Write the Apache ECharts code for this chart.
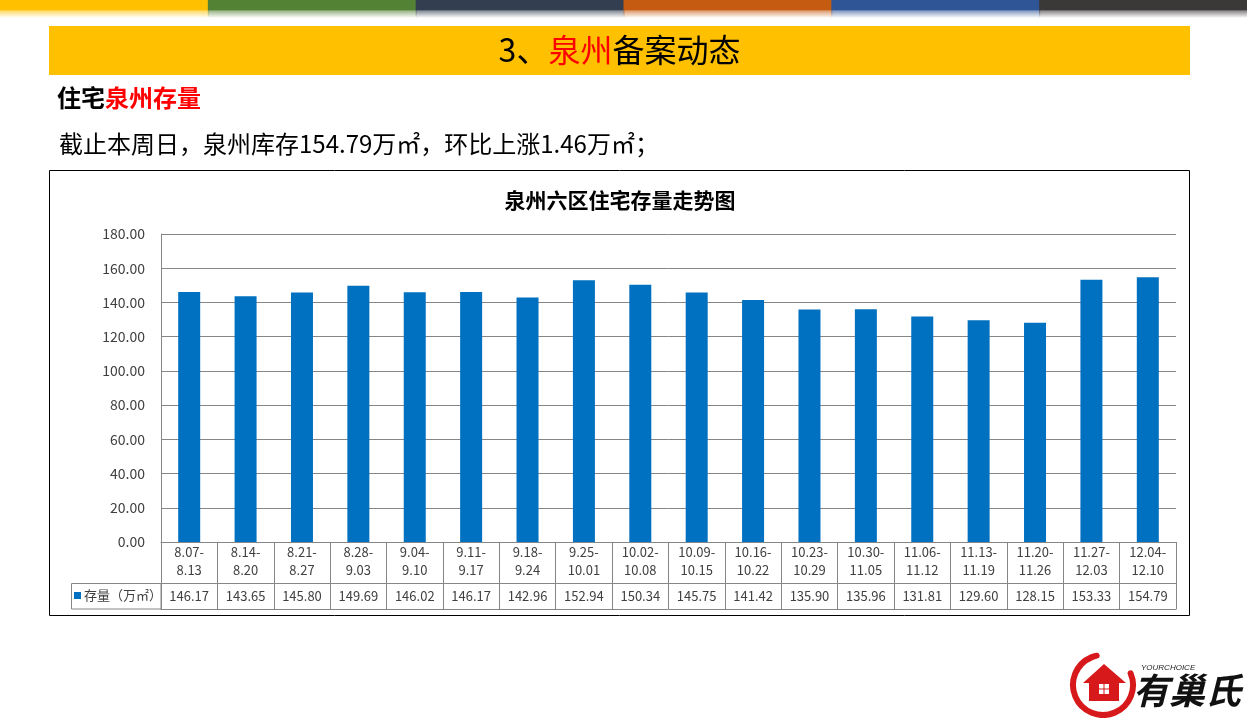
<!DOCTYPE html>
<html><head><meta charset="utf-8">
<script src="https://cdn.jsdelivr.net/npm/echarts@6/dist/echarts.min.js"></script>
<style>html,body{margin:0;padding:0;background:#fff}#c{width:1247px;height:718px}</style>
</head><body><div id="c"></div><script>
const categories = ["8.07-8.13","8.14-8.20","8.21-8.27","8.28-9.03","9.04-9.10","9.11-9.17","9.18-9.24","9.25-10.01","10.02-10.08","10.09-10.15","10.16-10.22","10.23-10.29","10.30-11.05","11.06-11.12","11.13-11.19","11.20-11.26","11.27-12.03","12.04-12.10"];
const stock = [146.17,143.65,145.80,149.69,146.02,146.17,142.96,152.94,150.34,145.75,141.42,135.90,135.96,131.81,129.60,128.15,153.33,154.79];
const seriesName = "存量（万㎡）";
const stripeColors = ["#FFC000","#548235","#333F50","#C55A11","#2F5597","#3B3838"];

const FONT = "'Noto Sans CJK SC','Microsoft YaHei',sans-serif";
const GRAY = "#868686";
const TXT = "#404040";

const chart = echarts.init(document.getElementById('c'), null, {renderer:'canvas'});

const stripes = stripeColors.map((c, i) => ({
  type:'rect', shape:{x:i*1247/6, y:0, width:1247/6+1, height:18}, silent:true,
  style:{fill:{type:'linear', x:0, y:0, x2:0, y2:1, colorStops:[
    {offset:0, color:c},{offset:0.55, color:c},{offset:0.6, color:c+'99'},{offset:1, color:c+'00'}]}}
}));

const option = {
  animation:false,
  textStyle:{fontFamily:FONT},
  legend:{data:[seriesName], left:74, top:589, padding:0, icon:'rect', itemWidth:7, itemHeight:7,
    itemGap:0, selectedMode:false, textStyle:{fontSize:13, color:TXT, fontFamily:FONT, padding:[0,0,0,-2]}},
  grid:{left:161, right:71, top:234, bottom:176},
  xAxis:[
    {type:'category', data:categories, position:'bottom',
     axisLine:{lineStyle:{color:GRAY}},
     axisTick:{show:true, interval:0, length:67, lineStyle:{color:GRAY}},
     axisLabel:{interval:0, margin:1, lineHeight:18, fontSize:13, color:TXT, fontFamily:FONT,
       formatter:v => v.replace('-', '-\n')}},
    {type:'category', data:categories, position:'bottom', offset:41,
     axisLine:{show:true, lineStyle:{color:GRAY}}, axisTick:{show:false},
     axisLabel:{interval:0, margin:0, lineHeight:26, fontSize:13, color:TXT, fontFamily:FONT,
       formatter:(v, i) => stock[i].toFixed(2)}},
    {type:'category', data:categories, position:'bottom', offset:67,
     axisLine:{show:true, lineStyle:{color:GRAY}}, axisTick:{show:false}, axisLabel:{show:false}}
  ],
  yAxis:{type:'value', min:0, max:180, interval:20,
    axisLine:{show:true, lineStyle:{color:GRAY}}, axisTick:{show:false},
    splitLine:{lineStyle:{color:GRAY}},
    axisLabel:{margin:16, fontSize:14, color:TXT, fontFamily:FONT, formatter:v => v.toFixed(2)}},
  series:[{name:seriesName, type:'bar', xAxisIndex:0, yAxisIndex:0, data:stock, barWidth:22,
    itemStyle:{color:'#0070C0'}}],
  graphic:[
    ...stripes,
    {type:'rect', shape:{x:49, y:26, width:1141, height:49}, style:{fill:'#FFC000'}, silent:true},
    {type:'text', x:619.5, y:50, silent:true, style:{
      text:'{a|3、}{b|泉州}{a|备案动态}', align:'center', verticalAlign:'middle',
      rich:{a:{fontSize:32, fill:'#000', fontFamily:FONT}, b:{fontSize:32, fill:'#FF0000', fontFamily:FONT}}}},
    {type:'text', x:57, y:98, silent:true, style:{
      text:'{a|住宅}{b|泉州存量}', align:'left', verticalAlign:'middle',
      rich:{a:{fontSize:24, fontWeight:'bold', fill:'#000', fontFamily:FONT}, b:{fontSize:24, fontWeight:'bold', fill:'#FF0000', fontFamily:FONT}}}},
    {type:'text', x:59, y:144, silent:true, style:{
      text:'截止本周日，泉州库存154.79万㎡，环比上涨1.46万㎡；', align:'left', verticalAlign:'middle',
      fontSize:24, fill:'#000', fontFamily:FONT}},
    {type:'rect', shape:{x:49.5, y:170.5, width:1140, height:445}, style:{fill:null, stroke:'#000', lineWidth:1}, silent:true},
    {type:'text', x:620, y:200, silent:true, style:{text:'泉州六区住宅存量走势图', align:'center', verticalAlign:'middle',
      fontSize:21, fontWeight:'bold', fill:'#000', fontFamily:FONT}},
    {type:'rect', shape:{x:71.5, y:583.5, width:89.5, height:25.5}, style:{fill:null, stroke:GRAY, lineWidth:1}, silent:true},
    // logo
    {type:'arc', shape:{cx:1103, cy:685, r:30, startAngle:-0.4, endAngle:4.5, clockwise:true},
      style:{stroke:'#D7191C', lineWidth:6, fill:null, lineCap:'round'}, silent:true},
    {type:'polygon', shape:{points:[[1083,683],[1104,664],[1126,683],[1119,683],[1119,701],[1089,701],[1089,683]]},
      style:{fill:'#D7191C'}, silent:true},
    {type:'rect', shape:{x:1099, y:684, width:10, height:10}, style:{fill:'#fff'}, silent:true},
    {type:'rect', shape:{x:1103.5, y:684, width:1, height:10}, style:{fill:'#D7191C'}, silent:true},
    {type:'rect', shape:{x:1099, y:688.5, width:10, height:1}, style:{fill:'#D7191C'}, silent:true},
    {type:'text', x:1141, y:668, silent:true, style:{text:'YOURCHOICE', fontSize:8, fontStyle:'italic', fill:'#222', fontFamily:'Liberation Sans', verticalAlign:'middle'}},
    {type:'text', x:1133, y:690, silent:true, style:{text:'有巢氏', fontSize:36, fontWeight:'bold', fontStyle:'italic', fill:'#111', fontFamily:FONT, verticalAlign:'middle'}}
  ]
};
chart.setOption(option);
</script></body></html>
